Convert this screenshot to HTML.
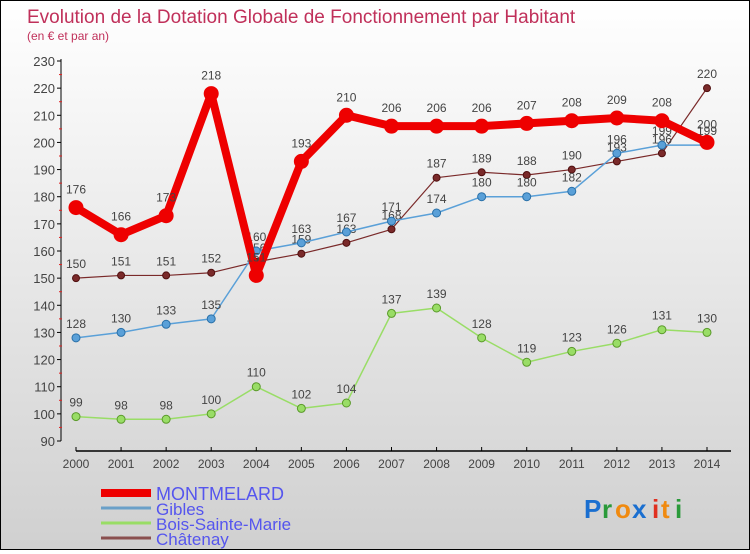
<!DOCTYPE html>
<html><head><meta charset="utf-8"><style>
body{margin:0}
#c{width:748px;height:548px;border:1px solid #000;background:linear-gradient(#ffffff,#d0d0d0);position:relative;font-family:"Liberation Sans",sans-serif}
</style></head><body>
<div id="c">
<svg id="s" width="748" height="548" xmlns="http://www.w3.org/2000/svg">
<text x="26" y="22" font-size="19" fill="#c0305a">Evolution de la Dotation Globale de Fonctionnement par Habitant</text>
<text x="26" y="39" font-size="12" fill="#c0305a">(en € et par an)</text>
<g id="axes"></g><g id="series"></g><g id="legend"></g>
<g font-size="26" font-weight="bold">
<text x="583" y="517" fill="#1a6fd0">P</text><text x="601" y="517" fill="#2a9a3a">r</text><text x="614" y="517" fill="#f08a10">o</text><text x="631" y="517" fill="#1a6fd0">x</text><text x="651" y="517" fill="#e03020">i</text><text x="660" y="517" fill="#f08a10">t</text><text x="674" y="517" fill="#2a9a3a">i</text>
</g>
</svg></div>
<script>
const years=[2000,2001,2002,2003,2004,2005,2006,2007,2008,2009,2010,2011,2012,2013,2014];
const montmelard=[176,166,173,218,151,193,210,206,206,206,207,208,209,208,200];
const gibles=[128,130,133,135,160,163,167,171,174,180,180,182,196,199,199];
const bois=[99,98,98,100,110,102,104,137,139,128,119,123,126,131,130];
const chatenay=[150,151,151,152,156,159,163,168,187,189,188,190,193,196,220];
const yTicks=[90,100,110,120,130,140,150,160,170,180,190,200,210,220,230];
const NS="http://www.w3.org/2000/svg";
const X=i=>75+i*(706-75)/(years.length-1);
const Y=v=>440-(v-90)*(380/140);
function mk(p,t,a){const e=document.createElementNS(NS,t);for(const k in a)e.setAttribute(k,a[k]);p.appendChild(e);return e;}
const ax=document.getElementById('axes');
let e=mk(ax,'line',{x1:60,y1:58,x2:60,y2:440,stroke:'#000'});


e=mk(ax,'line',{x1:75,y1:450,x2:730,y2:450,stroke:'#000','stroke-width':1.5});


yTicks.forEach((v,i)=>{
 mk(ax,'line',{x1:56,y1:Y(v),x2:60,y2:Y(v),stroke:'#000'});
 if(i<yTicks.length-1)mk(ax,'line',{x1:58,y1:Y(v+5),x2:61,y2:Y(v+5),stroke:'#e02020'});
 const t=mk(ax,'text',{x:54,y:Y(v)+5,'text-anchor':'end','font-size':13,fill:'#444'});t.textContent=v;
 
 
});
years.forEach((yr,i)=>{
 mk(ax,'line',{x1:X(i),y1:446,x2:X(i),y2:450,stroke:'#000'});
 const t=mk(ax,'text',{x:X(i),y:467,'text-anchor':'middle','font-size':12,fill:'#444'});t.textContent=yr;
 
 
});
const sg=document.getElementById('series');
function series(data,color,w,r,name,lw){
 const g=mk(sg,'g',{});
 
 
 mk(g,'polyline',{points:data.map((v,i)=>X(i)+','+Y(v)).join(' '),fill:'none',stroke:color,'stroke-width':w,'stroke-linejoin':'round'});
 data.forEach((v,i)=>{
  const c=mk(g,'circle',{cx:X(i),cy:Y(v),r:r,fill:color,stroke:lw,'stroke-width':1});
  
  
  const t=mk(g,'text',{x:X(i),y:Y(v)-10-(r>6?4:0),'text-anchor':'middle','font-size':12,fill:'#444'});t.textContent=v;
  
  
 });
}
series(bois,'#99dd66',1.5,4,'bois-sainte-marie','#5a9a2a');
series(chatenay,'#7a2a2a',1.2,3.5,'chatenay','#501010');
series(gibles,'#5aa0d8',1.5,4,'gibles','#2a70a8');
series(montmelard,'#ee0000',8,7,'montmelard','#ee0000');
const lg=document.getElementById('legend');
[['MONTMELARD','#ee0000',8],['Gibles','#6aa0c8',3],['Bois-Sainte-Marie','#99dd66',3],['Châtenay','#8a5050',3]].forEach((d,i)=>{
 const y=492+i*15;
 const l=mk(lg,'line',{x1:100,y1:y,x2:150,y2:y,stroke:d[1],'stroke-width':d[2]});
 
 
 const t=mk(lg,'text',{x:155,y:y+7,'font-size':i==0?18:17,fill:'#5555ee'});t.textContent=d[0];
 
 
});
</script>
</body></html>
